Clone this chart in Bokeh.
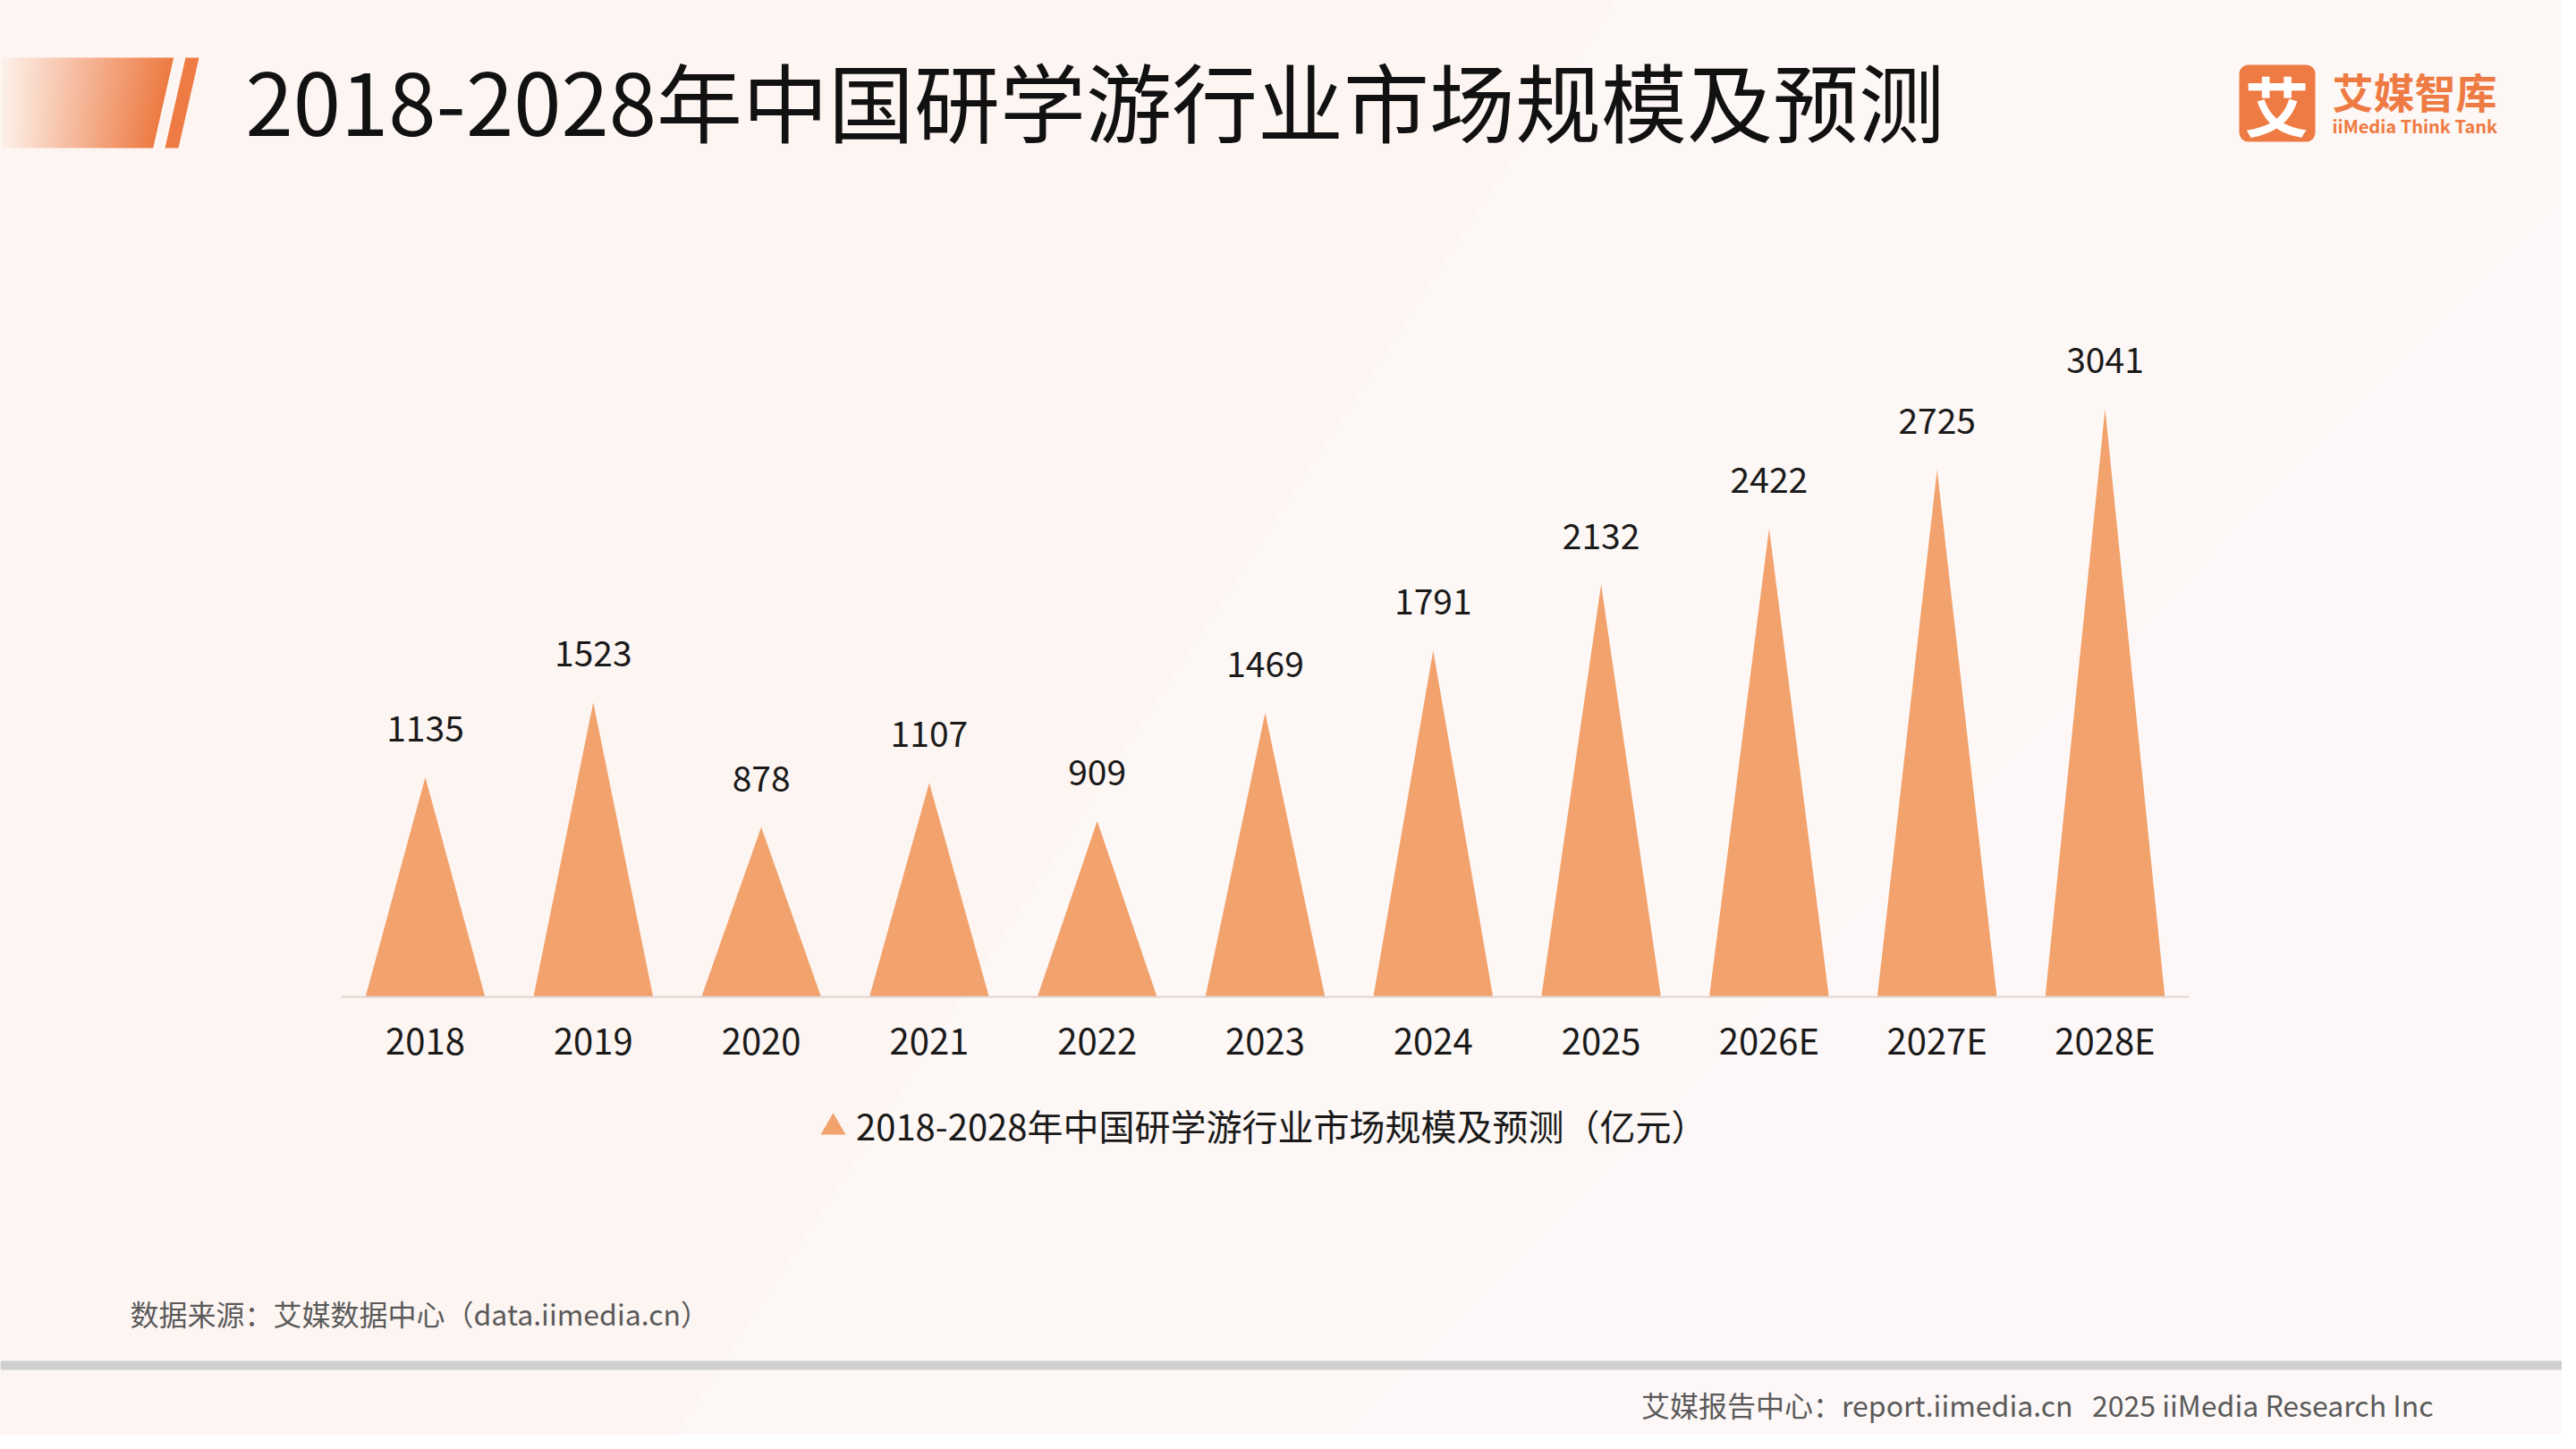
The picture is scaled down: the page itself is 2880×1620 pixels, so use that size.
from bokeh.plotting import figure
from bokeh.models import (Range1d, ColumnDataSource, LabelSet, Label,
                          Legend, LegendItem, BoxAnnotation)
from bokeh.core.properties import value
from bokeh.embed import file_html
from bokeh.resources import INLINE

# ---------------- data ----------------
years = ["2018", "2019", "2020", "2021", "2022", "2023", "2024", "2025", "2026E", "2027E", "2028E"]
market_size = [1135, 1523, 878, 1107, 909, 1469, 1791, 2132, 2422, 2725, 3041]
series_name = "2018-2028年中国研学游行业市场规模及预测（亿元）"
title_text = "2018-2028年中国研学游行业市场规模及预测"
source_text = "数据来源：艾媒数据中心（data.iimedia.cn）"
footer_text = "艾媒报告中心：report.iimedia.cn\u00a0\u00a0\u00a02025 iiMedia Research Inc"
logo_cn = "艾媒智库"
logo_en = "iiMedia Think Tank"

# ---------------- layout / style ----------------
W, H = 2864, 1604
X0, STEP = 475.0, 187.8        # canvas x of first category centre, category width (px)
BASE, PXU = 1114.0, 0.21621    # canvas y of zero line, pixels per unit
HALF = 0.356                   # half base width of a triangle, in category units
FONT = "Noto Sans CJK SC"
BG = "#FDF5F2"
BAR = "#F2A26C"
ORANGE = "#EE7B43"
TXT = "#1A1A1A"
GREY = "#5A5A5A"

p = figure(width=W, height=H,
           x_range=Range1d(-X0 / STEP, (W - X0) / STEP),
           y_range=Range1d(-(H - BASE) / PXU, BASE / PXU),
           x_axis_type=None, y_axis_type=None,
           output_backend="svg", toolbar_location=None, min_border=0)
p.title.visible = False
p.background_fill_color = BG
p.border_fill_color = BG
p.outline_line_color = None
p.grid.visible = False
p.extra_x_ranges = {"px": Range1d(0, W)}
p.extra_y_ranges = {"py": Range1d(H, 0)}
PX = dict(x_range_name="px", y_range_name="py")

# light diagonal background bands
p.patches(xs=[[753, 1805, W, W], [1500, 2900, W]],
          ys=[[H, 0, 0, H], [H, 180, H]],
          fill_color="white", fill_alpha=[0.25, 0.2], line_color=None, **PX)

# triangles
idx = list(range(len(years)))
src = ColumnDataSource(dict(
    xs=[[i - HALF, i, i + HALF] for i in idx],
    ys=[[0, v, 0] for v in market_size],
))
p.patches(xs="xs", ys="ys", source=src, fill_color=BAR, line_color=None)

# category axis line
p.segment(x0=[idx[0] - 0.5], x1=[idx[-1] + 0.5], y0=[0], y1=[0],
          line_color="#E2D4CF", line_width=2)

# value labels and category labels
lsrc = ColumnDataSource(dict(x=idx, y=market_size, zero=[0] * len(idx),
                             t=[str(v) for v in market_size], cat=years))
p.add_layout(LabelSet(x="x", y="y", text="t", source=lsrc, text_align="center",
                      text_baseline="alphabetic", y_offset=40,
                      text_font=value(FONT), text_font_size="39px", text_color=TXT))
p.add_layout(LabelSet(x="x", y="zero", text="cat", source=lsrc, text_align="center",
                      text_baseline="alphabetic", y_offset=-64,
                      text_font=value(FONT), text_font_size="40px", text_color=TXT))

# legend (marker drawn at the legend glyph position)
leg_r = p.scatter(x=[931], y=[1260], marker="triangle", size=28,
                  fill_color=BAR, line_color=None, **PX)
legend = Legend(items=[LegendItem(label=series_name, renderers=[leg_r])],
                location=(905, 311), orientation="horizontal",
                glyph_width=52, glyph_height=70, label_standoff=0,
                padding=0, margin=0, spacing=0,
                border_line_color=None, background_fill_alpha=0,
                label_text_font=FONT, label_text_font_size="40px",
                label_text_color=TXT)
p.add_layout(legend)

# header decoration: gradient parallelogram + slash
n = 48
c0 = (253, 242, 236)
c1 = (237, 122, 66)
top_y, bot_y = 64, 165
gx, gy, gc = [], [], []
for i in range(n):
    t0 = i / n
    t1 = (i + 1) / n
    tm = (t0 + t1) / 2
    gc.append("#%02x%02x%02x" % tuple(int(round(a + (b - a) * tm)) for a, b in zip(c0, c1)))
    gx.append([t0 * 193, t1 * 193 + 0.7, t1 * 170 + 0.7, t0 * 170])
    gy.append([top_y, top_y, bot_y, bot_y])
p.patches(xs=gx, ys=gy, fill_color=gc, line_color=None, **PX)
p.patch(x=[207, 222, 199, 184], y=[top_y, top_y, bot_y, bot_y],
        fill_color=ORANGE, line_color=None, **PX)

# title
p.text(x=[274], y=[110], text=[title_text], text_font=value(FONT),
       text_font_size="96px", text_color="#111111",
       text_baseline="alphabetic", text_align="left", **PX)

# source, separator, footer
p.text(x=[145], y=[1467], text=[source_text], text_font=value(FONT),
       text_font_size="32px", text_color=GREY, text_baseline="alphabetic", **PX)
p.quad(left=[0], right=[W], top=[1521], bottom=[1531], fill_color="#CFCFCF",
       line_color=None, **PX)
p.text(x=[2720], y=[1569], text=[footer_text], text_font=value(FONT),
       text_font_size="32px", text_color=GREY, text_align="right",
       text_baseline="alphabetic", **PX)

# logo
p.add_layout(BoxAnnotation(left=2503, right=2588, top=72, bottom=158,
                           left_units="canvas", right_units="canvas",
                           top_units="canvas", bottom_units="canvas",
                           fill_color=ORANGE, fill_alpha=1, line_color=None,
                           border_radius=10))
p.add_layout(Label(x=2545, y=115, x_units="canvas", y_units="canvas", text="艾",
                   text_font=FONT, text_font_size="72px", text_font_style="bold",
                   text_color="white", text_align="center", text_baseline="middle"))
p.add_layout(Label(x=2607, y=100, x_units="canvas", y_units="canvas", text=logo_cn,
                   text_font=FONT, text_font_size="46px", text_font_style="bold",
                   text_color=ORANGE, text_align="left", text_baseline="alphabetic"))
p.add_layout(Label(x=2607, y=140, x_units="canvas", y_units="canvas", text=logo_en,
                   text_font=FONT, text_font_size="20px", text_font_style="bold",
                   text_color=ORANGE, text_align="left", text_baseline="alphabetic"))

open("out.html", "w").write(file_html(p, INLINE))
